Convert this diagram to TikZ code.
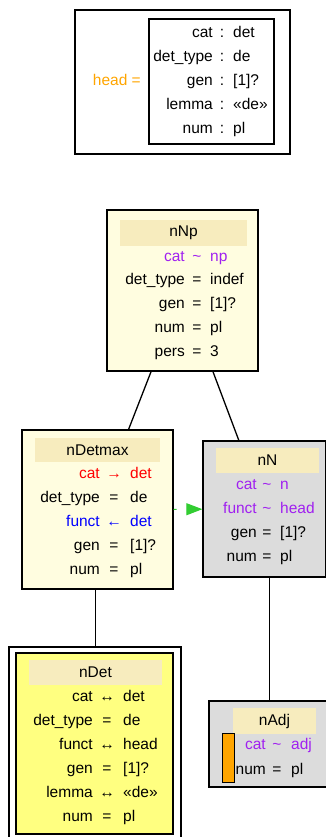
\documentclass[tikz,border=0pt]{standalone}
\usepackage{fontspec}
\setmainfont{Liberation Sans}
\usetikzlibrary{arrows.meta}
\definecolor{hdrcol}{RGB}{247,236,190}
\definecolor{lyellow}{RGB}{255,253,224}
\definecolor{lgray}{RGB}{220,220,220}
\definecolor{yellowfill}{RGB}{255,255,128}
\definecolor{purplecol}{RGB}{160,32,240}
\definecolor{orangecol}{RGB}{255,165,0}
\definecolor{greencol}{RGB}{50,205,50}
\tikzset{
  every node/.style={font=\fontsize{15.5}{18}\selectfont, inner sep=0pt},
  box/.style={draw=black, line width=1.3pt},
  hdr/.style={fill=hdrcol},
  edge/.style={draw=black, line width=1.3pt},
  purp/.style={text=purplecol},
}
\newcommand\frow[9]{%
  \node[anchor=mid east,yshift=-1.5pt,#9] (#1l) at (#3,-#2) {#6};
  \node[anchor=mid,yshift=-1.5pt,#9] (#1o) at (#4,-#2) {#7};
  \node[anchor=mid west,yshift=-1.5pt,#9] (#1v) at (#5,-#2) {#8};}
\begin{document}
\begin{tikzpicture}[x=1pt,y=1pt]
\useasboundingbox (0,0) rectangle (326,-837);
\clip (0,0) rectangle (326,-837);
% top box
\node[box, minimum width=215pt, minimum height=144pt] (top) at (182.5,-82) {};
\node[box, line width=1.2pt, minimum width=125pt, minimum height=125pt] (topin) at (211.5,-81.5) {};
\node[anchor=mid east, yshift=-1.5pt, text=orangecol] (headlbl) at (141,-81) {head =};
\frow{ta}{33}{213}{222}{233}{cat}{:}{det}{}
\frow{tb}{57}{213}{222}{233}{det\_type}{:}{de}{}
\frow{tc}{81}{213}{222}{233}{gen}{:}{[1]?}{}
\frow{td}{105}{213}{222}{233}{lemma}{:}{«de»}{}
\frow{te}{129}{213}{222}{233}{num}{:}{pl}{}
% nNp
\node[box, fill=lyellow, minimum width=151pt, minimum height=161pt] (nNp) at (182.5,-290.5) {};
\node[hdr, minimum width=127pt, minimum height=26pt] (nNph) at (183.5,-233) {nNp};
\frow{pa}{257}{185}{197}{210}{cat}{\textasciitilde}{np}{purp}
\frow{pb}{280}{185}{197}{210}{det\_type}{=}{indef}{}
\frow{pc}{304}{185}{197}{210}{gen}{=}{[1]?}{}
\frow{pd}{328}{185}{197}{210}{num}{=}{pl}{}
\frow{pe}{352}{185}{197}{210}{pers}{=}{3}{}
% nDetmax
\node[box, fill=lyellow, minimum width=151pt, minimum height=159pt] (nDetmax) at (97.5,-509.5) {};
\node[hdr, minimum width=125pt, minimum height=24pt] (nDetmaxh) at (97.5,-450) {nDetmax};
\frow{ma}{474}{100}{114}{130}{cat}{→}{det}{text=red}
\frow{mb}{498}{100}{114}{130}{det\_type}{=}{de}{}
\frow{mc}{522}{100}{114}{130}{funct}{←}{det}{text=blue}
\frow{md}{546}{100}{114}{130}{gen}{=}{[1]?}{}
\frow{me}{570}{100}{114}{130}{num}{=}{pl}{}
% nN
\node[box, fill=lgray, minimum width=123pt, minimum height=136pt] (nN) at (264.5,-509) {};
\node[hdr, minimum width=103pt, minimum height=25pt] (nNh) at (267.5,-460.5) {nN};
\frow{na}{485}{257}{267}{280}{cat}{\textasciitilde}{n}{purp}
\frow{nb}{509}{257}{267}{280}{funct}{\textasciitilde}{head}{purp}
\frow{nc}{533}{257}{267}{280}{gen}{=}{[1]?}{}
\frow{nd}{557}{257}{267}{280}{num}{=}{pl}{}
% nDet
\node[box, minimum width=172pt, minimum height=198pt] (nDet) at (95,-746) {};
\node[box, fill=yellowfill, minimum width=157pt, minimum height=181pt] (nDetin) at (94.5,-743.5) {};
\node[hdr, minimum width=133pt, minimum height=25pt] (nDeth) at (95.5,-672.5) {nDet};
\frow{da}{697}{93}{107}{123}{cat}{↔}{det}{}
\frow{db}{721}{93}{107}{123}{det\_type}{=}{de}{}
\frow{dc}{745}{93}{107}{123}{funct}{↔}{head}{}
\frow{dd}{769}{93}{107}{123}{gen}{=}{[1]?}{}
\frow{de}{793}{93}{107}{123}{lemma}{↔}{«de»}{}
\frow{df}{817}{93}{107}{123}{num}{=}{pl}{}
% nAdj
\node[box, fill=lgray, minimum width=121pt, minimum height=86pt] (nAdj) at (269.5,-744) {};
\node[hdr, minimum width=83pt, minimum height=26pt] (nAdjh) at (274.5,-721) {nAdj};
\node[draw=black, line width=1pt, fill=orangecol, minimum width=12pt, minimum height=49pt] (nAdjbar) at (228,-757.5) {};
\frow{aa}{745}{266}{277}{291}{cat}{\textasciitilde}{adj}{purp}
\frow{ab}{770}{266}{277}{291}{num}{=}{pl}{}
% connectors
\draw[edge] (nNp) -- (nDetmax);
\draw[edge] (nNp) -- (nN);
\draw[edge] ([xshift=0.5pt]nDet.north |- nDetmax.south) -- ([xshift=0.5pt]nDet.north);
\draw[edge] (nAdj.north |- nN.south) -- (nAdj.north);
\draw[greencol, line width=1pt, dash pattern=on 3pt off 20pt, -{Triangle[length=16pt,width=12pt]}] (nDetmax) -- (nN);
\end{tikzpicture}
\end{document}
